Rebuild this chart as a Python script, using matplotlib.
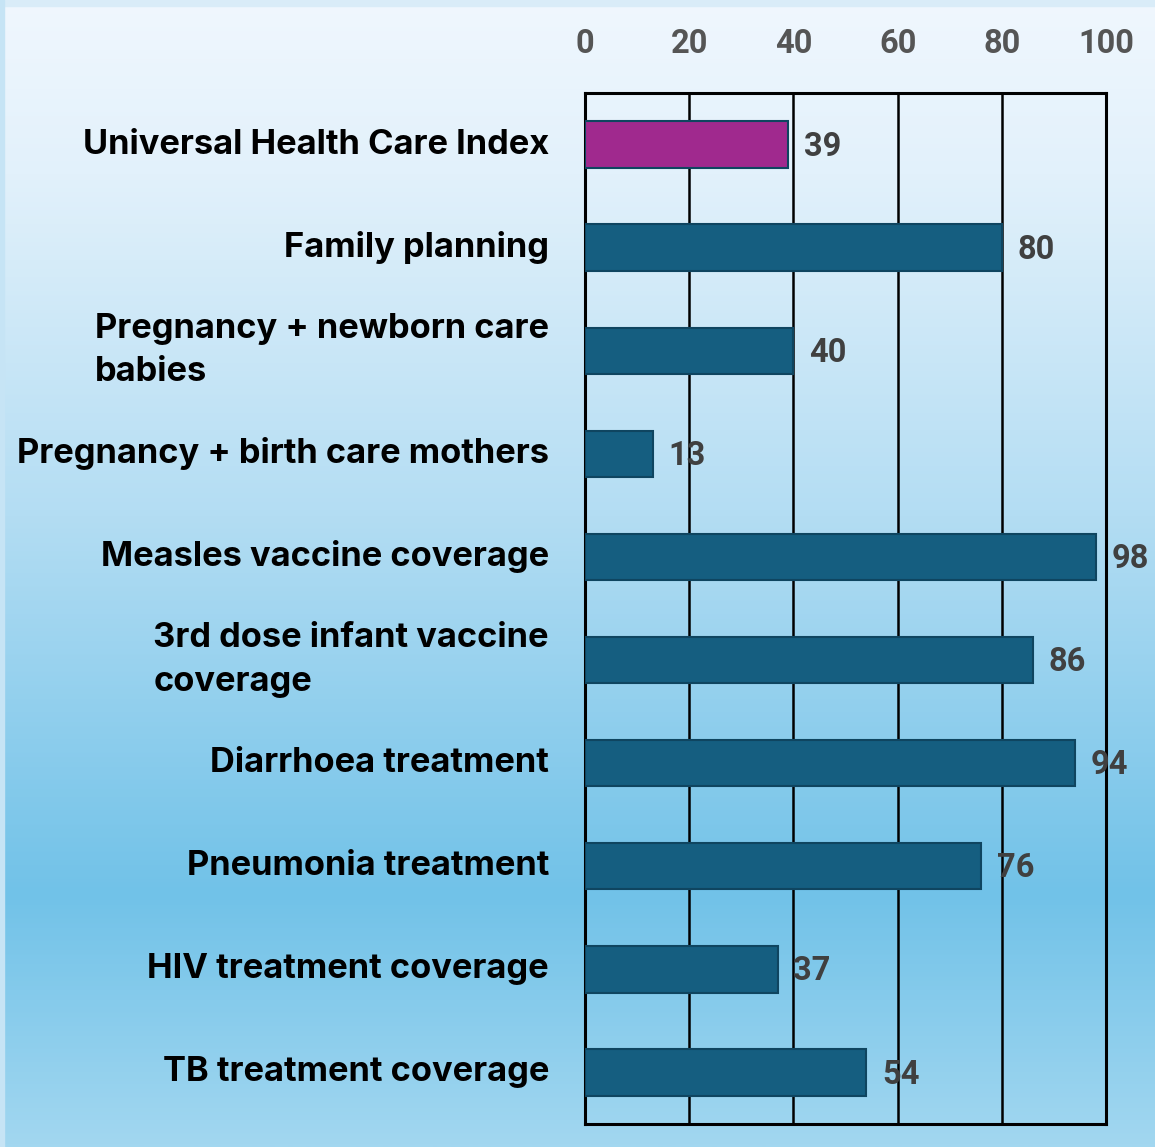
import matplotlib
matplotlib.use("Agg")
import matplotlib.pyplot as plt
import numpy as np
from matplotlib.colors import LinearSegmentedColormap

categories = [
    "Universal Health Care Index",
    "Family planning",
    "Pregnancy + newborn care\nbabies",
    "Pregnancy + birth care mothers",
    "Measles vaccine coverage",
    "3rd dose infant vaccine\ncoverage",
    "Diarrhoea treatment",
    "Pneumonia treatment",
    "HIV treatment coverage",
    "TB treatment coverage",
]
values = [39, 80, 40, 13, 98, 86, 94, 76, 37, 54]
tick_values = [0, 20, 40, 60, 80, 100]

W, H = 1155, 1147
fig = plt.figure(figsize=(W / 100, H / 100), dpi=100)

# background gradient
bg = fig.add_axes([0, 0, 1, 1], zorder=-10)
cmap = LinearSegmentedColormap.from_list(
    "bg",
    [(0.0, "#f0f7fe"), (0.15, "#e2f1fb"), (0.45, "#b3ddf3"),
     (0.78, "#71c2e8"), (1.0, "#a2d7f0")])
grad = np.linspace(0, 1, 512).reshape(-1, 1)
bg.imshow(grad, aspect="auto", cmap=cmap, extent=[0, 1, 0, 1], origin="upper")
bg.axhspan(1 - 6 / H, 1, color="#d9ecf8", zorder=2)
bg.axvspan(0, 4 / W, color="#c6e4f5", zorder=2)
bg.set_xlim(0, 1)
bg.set_ylim(0, 1)
bg.axis("off")

left, right, top, bottom = 585, 1106, 93, 1124
ax = fig.add_axes([left / W, 1 - bottom / H, (right - left) / W, (bottom - top) / H])
ax.patch.set_alpha(0)

y = np.arange(len(categories))
colors = ["#a0298e"] + ["#155e80"] * (len(categories) - 1)
ax.barh(y, values, height=0.45, color=colors, edgecolor="#0f4560",
        linewidth=1.5, zorder=3)

for yi, v in zip(y, values):
    ax.text(v + 3, yi + 0.02, str(v), va="center", ha="left", fontsize=23.5,
            fontweight="bold", color="#404040", family="Roboto", zorder=4)

ax.set_xlim(0, 100)
ax.set_ylim(len(categories) - 0.5, -0.5)
ax.set_xticks(tick_values)
ax.xaxis.tick_top()
ax.tick_params(axis="x", length=0, pad=24, labelsize=23.5, labelcolor="#555555")
for lab in ax.get_xticklabels():
    lab.set_fontweight("bold")
    lab.set_family("Roboto")
ax.set_yticks([])
ax.grid(axis="x", color="black", linewidth=1.8, zorder=1)
ax.set_axisbelow(True)
for s in ax.spines.values():
    s.set_linewidth(2.2)
    s.set_color("black")

for yi, c in zip(y, categories):
    ax.annotate(c, xy=(0, yi), xycoords=("axes fraction", "data"),
                xytext=(-26, 0), textcoords="offset points",
                ha="right", va="center", multialignment="left",
                fontsize=24.8, fontweight="bold", family="Inter",
                color="black", linespacing=1.45)

fig.savefig("out.png", dpi=100)
